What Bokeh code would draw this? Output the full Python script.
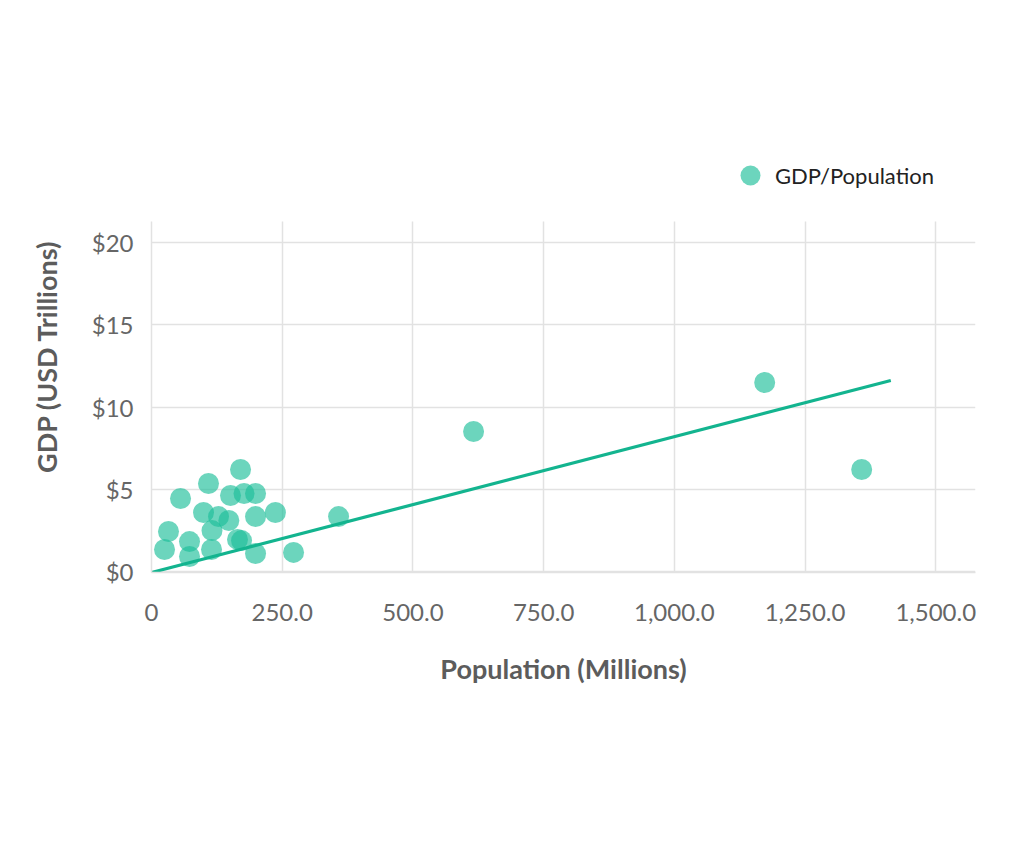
from bokeh.plotting import figure
from bokeh.models import Legend, LegendItem, Range1d, FixedTicker, ColumnDataSource
from bokeh.embed import file_html
from bokeh.resources import INLINE

# Data (population in millions, GDP in USD trillions)
population = [24.9, 32.5, 55.5, 72.7, 72.7, 109.0, 99.5, 115.7, 114.8, 128.2,
              147.9, 151.1, 170.3, 177.0, 199.0, 199.0, 164.5, 172.2, 199.0, 237.0,
              271.7, 357.8, 616.0, 1172.8, 1358.3]
gdp = [1.34, 2.43, 4.44, 1.82, 0.91, 5.35, 3.59, 2.49, 1.34, 3.34,
       3.10, 4.62, 6.20, 4.74, 4.74, 3.34, 1.95, 1.88, 1.09, 3.59,
       1.16, 3.34, 8.51, 11.49, 6.20]
trend_x = [0, 1414]
trend_y = [-0.06, 11.61]

x_ticks = [0, 250, 500, 750, 1000, 1250, 1500]
x_tick_labels = ["0", "250.0", "500.0", "750.0", "1,000.0", "1,250.0", "1,500.0"]
y_ticks = [0, 5, 10, 15, 20]
y_tick_labels = ["$0", "$5", "$10", "$15", "$20"]

FONT = "Lato"
GRID = "#e2e2e2"
Y_LO, Y_HI = -0.06, 21.28   # visible extent of the grid / axis

p = figure(width=1008, height=854, output_backend="svg", toolbar_location=None,
           x_range=Range1d(0, 1576), y_range=Range1d(Y_LO, 26.2),
           min_border_left=151, min_border_right=33, min_border_top=140,
           min_border_bottom=282, background_fill_color="white",
           border_fill_color="white", outline_line_color=None)

src = ColumnDataSource(dict(x=population, y=gdp))
pts = p.scatter("x", "y", source=src, size=21, fill_color="#1dbf9a", fill_alpha=0.65,
                line_color=None)
p.line(trend_x, trend_y, line_color="#13b48f", line_width=3.2)

for ax in (p.xaxis[0], p.yaxis[0]):
    ax.axis_line_color = GRID
    ax.axis_line_width = 1.5
    ax.major_tick_line_color = None
    ax.minor_tick_line_color = None
    ax.major_tick_out = 0
    ax.major_tick_in = 0
    ax.major_label_text_font = FONT
    ax.major_label_text_font_size = "24px"
    ax.major_label_text_color = "#666666"
    ax.axis_label_text_font = FONT
    ax.axis_label_text_font_size = "27px"
    ax.axis_label_text_font_style = "bold"
    ax.axis_label_text_color = "#5c5c5c"

p.xaxis[0].ticker = FixedTicker(ticks=x_ticks)
p.xaxis[0].major_label_overrides = dict(zip(x_ticks, x_tick_labels))
p.xaxis[0].axis_label = "Population (Millions)"
p.xaxis[0].major_label_standoff = 31
p.xaxis[0].axis_label_standoff = 28

p.yaxis[0].ticker = FixedTicker(ticks=y_ticks)
p.yaxis[0].major_label_overrides = dict(zip(y_ticks, y_tick_labels))
p.yaxis[0].axis_label = "GDP (USD Trillions)"
p.yaxis[0].major_label_standoff = 18
p.yaxis[0].axis_label_standoff = 26
p.yaxis[0].bounds = (Y_LO, Y_HI)

p.xgrid.ticker = FixedTicker(ticks=x_ticks)
p.xgrid.cross_bounds = (Y_LO, Y_HI)
p.ygrid.ticker = FixedTicker(ticks=y_ticks)
p.grid.grid_line_color = GRID
p.grid.grid_line_width = 1.5

legend = Legend(items=[LegendItem(label="GDP/Population", renderers=[pts])],
                location=(574, 372), orientation="horizontal",
                glyph_width=50, glyph_height=50, label_standoff=0,
                padding=0, margin=0, border_line_color=None,
                background_fill_alpha=0,
                label_text_font=FONT, label_text_font_size="22px",
                label_text_color="#222222")
p.add_layout(legend, "center")

open("out.html", "w").write(file_html(p, INLINE))
